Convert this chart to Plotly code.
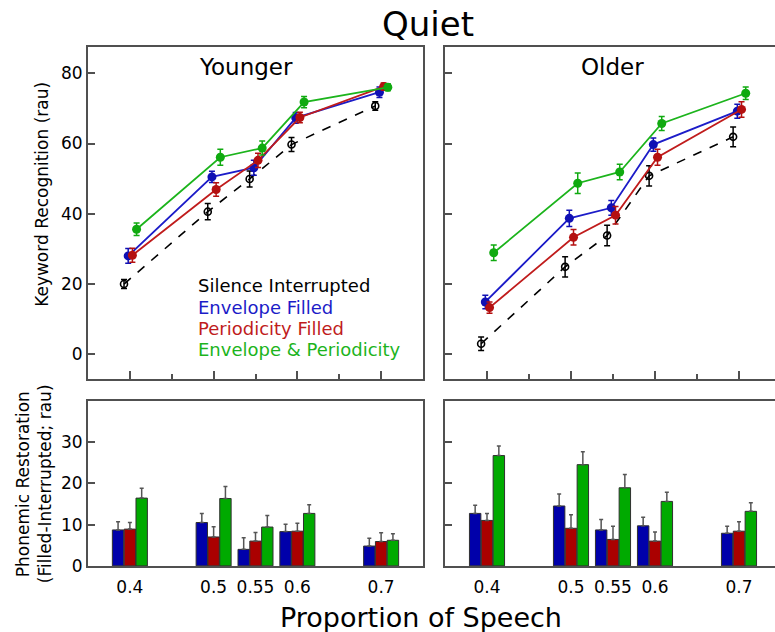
import plotly.graph_objects as go

props = [0.4, 0.5, 0.55, 0.6, 0.7]
tick_text = ["0.4", "0.5", "0.55", "0.6", "0.7"]
series_names = ["Silence Interrupted", "Envelope Filled", "Periodicity Filled", "Envelope & Periodicity"]

# Keyword recognition (rau) - Younger
y_sil = [20.0, 40.6, 49.9, 59.7, 70.7]
y_sil_err = [1.3, 2.3, 2.3, 2.0, 1.2]
y_env = [28.0, 50.5, 53.1, 67.3, 74.6]
y_env_err = [2.1, 1.6, 2.1, 1.5, 1.5]
y_per = [28.2, 46.9, 55.2, 67.4, 76.2]
y_per_err = [2.0, 1.9, 2.0, 1.5, 1.0]
y_ep = [35.6, 56.1, 58.7, 71.8, 76.0]
y_ep_err = [1.8, 2.3, 2.0, 1.6, 1.0]

# Keyword recognition (rau) - Older
o_sil = [3.0, 24.9, 33.8, 50.8, 61.9]
o_sil_err = [1.9, 2.9, 2.9, 2.9, 2.8]
o_env = [14.9, 38.7, 41.7, 59.7, 69.2]
o_env_err = [1.9, 2.3, 2.1, 1.9, 2.0]
o_per = [13.3, 33.3, 39.6, 56.1, 69.7]
o_per_err = [1.6, 2.2, 2.5, 2.3, 2.2]
o_ep = [28.9, 48.7, 51.9, 65.7, 74.3]
o_ep_err = [2.2, 2.9, 2.2, 2.0, 1.8]

# Phonemic restoration (Filled - Interrupted; rau) - Younger
yb_env = [8.7, 10.5, 4.0, 8.3, 4.8]
yb_env_err = [2.0, 2.2, 2.8, 1.8, 1.9]
yb_per = [8.9, 7.0, 6.0, 8.4, 5.9]
yb_per_err = [1.6, 2.5, 2.1, 1.9, 2.1]
yb_ep = [16.4, 16.3, 9.4, 12.7, 6.2]
yb_ep_err = [2.4, 2.9, 2.8, 2.1, 1.6]

# Phonemic restoration - Older
ob_env = [12.7, 14.5, 8.7, 9.7, 7.9]
ob_env_err = [2.0, 2.9, 2.5, 2.1, 1.7]
ob_per = [11.0, 9.1, 6.4, 6.0, 8.4]
ob_per_err = [1.7, 3.3, 3.2, 2.2, 2.3]
ob_ep = [26.7, 24.5, 18.9, 15.6, 13.2]
ob_ep_err = [2.3, 3.1, 3.2, 2.2, 2.1]

FONT = "DejaVu Sans"
FRAME = "#505050"
line_colors = ["black", "#1c1cc8", "#c01c1c", "#1cb41c"]
marker_colors = ["black", "#1010b4", "#b41010", "#10aa10"]
bar_colors = ["#0000aa", "#aa0000", "#00aa00"]
pt_offsets = [-0.007, -0.002, 0.003, 0.008]
bar_offsets = [-0.0141, 0.0, 0.0141]
bar_w = 0.0136

fig = go.Figure()

def add_lines(xa, ya, vals, errs):
    for i, (v, e) in enumerate(zip(vals, errs)):
        xs = [p + pt_offsets[i] for p in props]
        if i == 0:
            marker = dict(symbol="circle-open", size=7, color="black", line=dict(width=1.6))
            line = dict(color="black", width=1.6, dash="dash")
        else:
            marker = dict(symbol="circle", size=9, color=marker_colors[i])
            line = dict(color=line_colors[i], width=1.8)
        fig.add_trace(go.Scatter(
            x=xs, y=v, mode="lines+markers", xaxis=xa, yaxis=ya,
            marker=marker, line=line, showlegend=False, name=series_names[i],
            error_y=dict(type="data", array=e, color=marker_colors[i], thickness=1.5, width=3),
        ))

def add_bars(xa, ya, vals, errs):
    for i, (v, e) in enumerate(zip(vals, errs)):
        xs = [p + bar_offsets[i] for p in props]
        fig.add_trace(go.Bar(
            x=xs, y=v, width=bar_w, xaxis=xa, yaxis=ya, showlegend=False,
            name=series_names[i + 1],
            marker=dict(color=bar_colors[i], line=dict(color="#303030", width=1)),
            error_y=dict(type="data", symmetric=False, array=e, arrayminus=[0] * len(e),
                         color="#555555", thickness=1.5, width=2),
        ))

add_lines("x", "y", [y_sil, y_env, y_per, y_ep], [y_sil_err, y_env_err, y_per_err, y_ep_err])
add_lines("x2", "y2", [o_sil, o_env, o_per, o_ep], [o_sil_err, o_env_err, o_per_err, o_ep_err])
add_bars("x3", "y3", [yb_env, yb_per, yb_ep], [yb_env_err, yb_per_err, yb_ep_err])
add_bars("x4", "y4", [ob_env, ob_per, ob_ep], [ob_env_err, ob_per_err, ob_ep_err])

W, H = 775, 632
left_dom = [88 / W, 423 / W]
right_dom = [445 / W, 1.0]
top_dom = [1 - 385 / H, 1 - 48 / H]
bot_dom = [1 - 575 / H, 1 - 407 / H]

common_ax = dict(showgrid=False, zeroline=False, showline=True, linecolor=FRAME, linewidth=2,
                 tickcolor=FRAME, tickwidth=1.5, ticks="inside",
                 tickfont=dict(family=FONT, size=17, color="black"))

top_x = dict(common_ax, tickvals=[0.4, 0.5, 0.6, 0.7], ticklen=8, showticklabels=False,
             minor=dict(tickvals=[0.45, 0.55, 0.65], ticks="inside", ticklen=5,
                        tickcolor=FRAME, tickwidth=1.5))
bot_x = dict(common_ax, tickvals=props, ticktext=tick_text, ticks="", ticklen=0,
             ticklabelstandoff=5)

fig.update_layout(
    width=W, height=H, margin=dict(l=0, r=0, t=0, b=0),
    paper_bgcolor="white", plot_bgcolor="white",
    barmode="overlay", font=dict(family=FONT, color="black"),
    xaxis=dict(top_x, domain=left_dom, range=[0.35, 0.75], anchor="y", mirror=True),
    xaxis2=dict(top_x, domain=right_dom, range=[0.35, 0.35 + 330 / 840], anchor="y2", mirror=True),
    xaxis3=dict(bot_x, domain=left_dom, range=[0.35, 0.75], anchor="y3", mirror=True),
    xaxis4=dict(bot_x, domain=right_dom, range=[0.35, 0.35 + 330 / 840], anchor="y4", mirror=True),
    yaxis=dict(common_ax, domain=top_dom, range=[-7, 87.4], tickvals=[0, 20, 40, 60, 80],
               ticklen=7, anchor="x", mirror=True),
    yaxis2=dict(common_ax, domain=top_dom, range=[-7, 87.4], tickvals=[0, 20, 40, 60, 80],
                ticklen=7, anchor="x2", showticklabels=False),
    yaxis3=dict(common_ax, domain=bot_dom, range=[0, 40], tickvals=[0, 10, 20, 30],
                ticklen=7, anchor="x3", mirror=True),
    yaxis4=dict(common_ax, domain=bot_dom, range=[0, 40], tickvals=[0, 10, 20, 30],
                ticklen=7, anchor="x4", showticklabels=False),
)

ann = []
def text(x, y, s, size, color="black", xanchor="center", angle=0):
    ann.append(dict(x=x / W, y=1 - y / H, xref="paper", yref="paper", text=s, showarrow=False,
                    xanchor=xanchor, yanchor="middle", textangle=angle, borderpad=0,
                    font=dict(family=FONT, size=size, color=color)))

text(428, 24, "Quiet", 34)
text(246, 68, "Younger", 23)
text(612, 68, "Older", 23)
legend_y = [290, 312.5, 334, 355]
for name, c, yy in zip(series_names, line_colors, legend_y):
    text(197, yy, name, 18, color=c, xanchor="left")
text(42, 198, "Keyword Recognition (rau)", 17, angle=-90)
text(23, 492, "Phonemic Restoration", 17, angle=-90)
text(45, 492, "(Filled-Interrupted; rau)", 17, angle=-90)
text(421, 627, "Proportion of Speech", 27)
fig.update_layout(annotations=ann)

fig.write_html("out.html")
